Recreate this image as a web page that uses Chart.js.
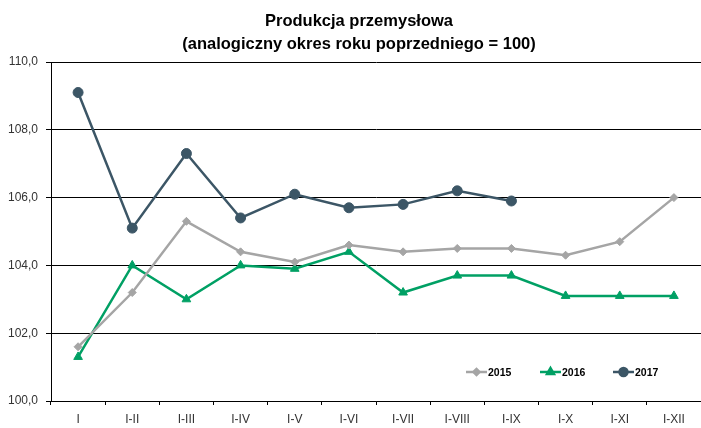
<!DOCTYPE html>
<html>
<head>
<meta charset="utf-8">
<script src="https://cdn.jsdelivr.net/npm/chart.js@4"></script>
<style>
  html, body { margin: 0; padding: 0; background: #fff; }
  #wrap { position: relative; width: 701px; height: 428px; }
</style>
</head>
<body>
<div id="wrap"><canvas id="chart" width="701" height="428"></canvas></div>
<script>
const FONT = "'Liberation Sans', Arial, sans-serif"

const title = ["Produkcja przemysłowa", "(analogiczny okres roku poprzedniego = 100)"]
const months = ["I", "I-II", "I-III", "I-IV", "I-V", "I-VI", "I-VII", "I-VIII", "I-IX", "I-X", "I-XI", "I-XII"]
const values2015 = [101.6, 103.2, 105.3, 104.4, 104.1, 104.6, 104.4, 104.5, 104.5, 104.3, 104.7, 106.0]
const values2016 = [101.3, 104.0, 103.0, 104.0, 103.9, 104.4, 103.2, 103.7, 103.7, 103.1, 103.1, 103.1]
const values2017 = [109.1, 105.1, 107.3, 105.4, 106.1, 105.7, 105.8, 106.2, 105.9]
const yTicks = [100, 102, 104, 106, 108, 110]

const series = [
    { label: "2015", data: values2015, color: "#a5a5a5", point: "rectRot", radius: 4 },
    { label: "2016", data: values2016, color: "#00a064", point: "triangle", radius: 5 },
    { label: "2017", data: values2017, color: "#3c5666", point: "circle", radius: 5 },
]

// title sits a bit right of the canvas centre, so it is drawn by hand
const offsetTitle = {
    id: "offsetTitle",
    afterDraw(chart) {
        const ctx = chart.ctx
        ctx.save()
        ctx.fillStyle = "#000"
        ctx.font = "bold 16.5px " + FONT
        ctx.textAlign = "center"
        ctx.textBaseline = "middle"
        ctx.fillText(title[0], 359, 21)
        ctx.fillText(title[1], 359, 44.5)
        ctx.restore()
    }
}

// legend drawn inside the plot, bottom right
const insideLegend = {
    id: "insideLegend",
    afterDraw(chart) {
        const ctx = chart.ctx
        const y = 372
        const starts = [466, 540, 613]
        ctx.save()
        chart.data.datasets.forEach((ds, i) => {
            const x = starts[i]
            ctx.strokeStyle = ds.borderColor
            ctx.lineWidth = 2.5
            ctx.beginPath()
            ctx.moveTo(x, y)
            ctx.lineTo(x + 21, y)
            ctx.stroke()
            ctx.fillStyle = ds.backgroundColor
            Chart.helpers.drawPoint(ctx, {
                pointStyle: ds.pointStyle,
                radius: ds.pointRadius - 1,
                borderWidth: 1
            }, x + 10.5, y)
            ctx.fillStyle = "#000"
            ctx.font = "bold 10.5px " + FONT
            ctx.textBaseline = "middle"
            ctx.fillText(ds.label, x + 22, y + 1)
        })
        ctx.restore()
    }
}

const ctx = document.getElementById("chart").getContext("2d")
new Chart(ctx, {
    type: "line",
    data: {
        labels: months,
        datasets: series.map(s => ({
            label: s.label,
            data: s.data,
            borderColor: s.color,
            backgroundColor: s.color,
            pointStyle: s.point,
            pointRadius: s.radius,
            pointHoverRadius: s.radius,
            pointBorderWidth: 1,
            borderWidth: 2.5,
            tension: 0,
        })),
    },
    options: {
        responsive: false,
        animation: false,
        devicePixelRatio: 1,
        layout: { autoPadding: false, padding: { top: 62, left: 0, right: 0, bottom: 0 } },
        plugins: {
            legend: { display: false },
            tooltip: { enabled: false },
            title: { display: false },
        },
        scales: {
            x: {
                offset: true,
                afterFit(scale) {
                    scale.paddingLeft = 0
                    scale.paddingRight = 0
                    scale.height = 27
                },
                grid: {
                    offset: true,
                    drawOnChartArea: false,
                    drawTicks: true,
                    tickLength: 4,
                    color: "#000",
                },
                border: { color: "#000", width: 1 },
                ticks: {
                    color: "#333",
                    font: { family: FONT, size: 12 },
                    padding: 7,
                    maxRotation: 0,
                    autoSkip: false,
                },
            },
            y: {
                min: 100,
                max: 110,
                afterBuildTicks(scale) {
                    scale.ticks = yTicks.map(v => ({ value: v }))
                },
                afterFit(scale) {
                    scale.width = 51
                    scale.paddingTop = 0
                    scale.paddingBottom = 0
                },
                grid: {
                    color: "#000",
                    lineWidth: 1,
                    drawTicks: true,
                    tickLength: 5,
                },
                border: { color: "#000", width: 1 },
                ticks: {
                    color: "#333",
                    font: { family: FONT, size: 12 },
                    padding: 8,
                    callback: v => v.toFixed(1).replace(".", ","),
                },
            },
        },
    },
    plugins: [insideLegend, offsetTitle],
})
</script>
</body>
</html>
